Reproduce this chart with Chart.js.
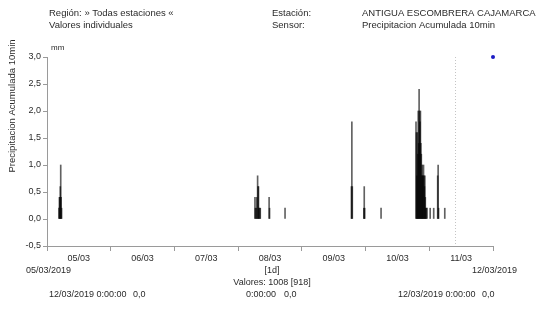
<!DOCTYPE html>
<html>
<head>
<meta charset="utf-8">
<script src="https://cdn.jsdelivr.net/npm/chart.js@4.4.0/dist/chart.umd.min.js"></script>
<style>
  html, body { margin: 0; padding: 0; background: #fff; }
  #wrap { width: 550px; height: 309px; }
</style>
</head>
<body>
<div id="wrap"><canvas id="rainChart" width="550" height="309"></canvas></div>
<script>
// 10-minute accumulated precipitation, ANTIGUA ESCOMBRERA CAJAMARCA (only non-zero readings)
const rainTimes = [
    '05/03 04:30', '05/03 04:40', '05/03 04:50', '05/03 05:00', '05/03 05:10', '05/03 05:20', '05/03 05:30',
    '08/03 06:20', '08/03 06:30', '08/03 06:50', '08/03 07:00', '08/03 07:20', '08/03 07:30', '08/03 07:40',
    '08/03 07:50', '08/03 08:10', '08/03 08:20', '08/03 11:40', '08/03 11:50', '08/03 17:40',
    '09/03 18:40', '09/03 18:50', '09/03 19:00', '09/03 23:20', '09/03 23:30', '09/03 23:40',
    '10/03 05:50',
    '10/03 19:00', '10/03 19:10', '10/03 19:20', '10/03 19:30', '10/03 19:40', '10/03 19:50',
    '10/03 20:00', '10/03 20:10', '10/03 20:20', '10/03 20:30', '10/03 20:40', '10/03 20:50',
    '10/03 21:00', '10/03 21:10', '10/03 21:20', '10/03 21:30', '10/03 21:40', '10/03 21:50',
    '10/03 22:00', '10/03 22:10', '10/03 22:20', '10/03 22:30', '10/03 22:40', '10/03 22:50',
    '10/03 23:10', '11/03 00:20', '11/03 01:40', '11/03 03:10', '11/03 03:20', '11/03 03:30', '11/03 05:50'
];
const rainValues = [
    0.2, 0.4, 0.4, 0.6, 1.0, 0.4, 0.2,
    0.4, 0.2, 0.2, 0.4, 0.8, 0.6, 0.6,
    0.2, 0.2, 0.2, 0.4, 0.2, 0.2,
    0.6, 1.8, 0.6, 0.2, 0.6, 0.2,
    0.2,
    1.8, 1.6, 0.8, 1.6, 1.2, 2.0,
    1.4, 2.4, 2.0, 1.8, 2.0, 1.4,
    1.2, 0.8, 1.0, 0.8, 0.8, 1.0,
    0.8, 0.6, 0.8, 0.4, 0.2, 0.2,
    0.2, 0.2, 0.2, 0.8, 1.0, 0.2, 0.2
];

// last reading marker (blue dot) and the dotted "now" line
const lastTimes = ['12/03 00:00'];
const lastValues = [3.0];
const markerTime = '11/03 09:40';

const dayLabels = ['05/03', '06/03', '07/03', '08/03', '09/03', '10/03', '11/03'];
const yMin = -0.5, yMax = 3.0, yStep = 0.5;
const totalHours = 168;

const headerLeft = ['Región: » Todas estaciones «', 'Valores individuales'];
const headerKeys = ['Estación:', 'Sensor:'];
const headerVals = ['ANTIGUA ESCOMBRERA CAJAMARCA', 'Precipitacion Acumulada 10min'];
const yTitle = 'Precipitacion Acumulada 10min';
const unitLabel = 'mm';
const startLabel = '05/03/2019';
const endLabel = '12/03/2019';
const intervalLabel = '[1d]';
const countLabel = 'Valores: 1008 [918]';
const footLeft = ['12/03/2019 0:00:00', '0,0'];
const footMid = ['0:00:00', '0,0'];
const footRight = ['12/03/2019 0:00:00', '0,0'];

// 'DD/MM HH:MM' -> hours since 05/03 00:00
const toHours = (s) => {
    const [d, t] = s.split(' ');
    const day = parseInt(d.split('/')[0], 10);
    const [h, m] = t.split(':').map(Number);
    return (day - 5) * 24 + h + m / 60;
};

const FONT = '"Liberation Sans", Arial, sans-serif';
const TXT = '#2a2a2a';

const textPlugin = {
    id: 'textPlugin',
    afterDraw: (chart) => {
        const ctx = chart.ctx;
        const x = chart.scales.x;
        const { top, bottom } = chart.chartArea;

        ctx.save();
        ctx.fillStyle = TXT;
        ctx.textBaseline = 'middle';

        ctx.font = '9.5px ' + FONT;
        ctx.textAlign = 'left';
        headerLeft.forEach((t, i) => ctx.fillText(t, 49, 13 + i * 12));
        headerKeys.forEach((t, i) => ctx.fillText(t, 272, 13 + i * 12));
        headerVals.forEach((t, i) => ctx.fillText(t, 362, 13 + i * 12));

        ctx.font = '8px ' + FONT;
        ctx.fillText(unitLabel, 51, 48);

        ctx.font = '9px ' + FONT;
        ctx.fillText(startLabel, 26, 271);
        ctx.textAlign = 'right';
        ctx.fillText(endLabel, 517, 271);
        ctx.textAlign = 'center';
        ctx.fillText(intervalLabel, 272, 271);
        ctx.fillText(countLabel, 272, 283);

        ctx.textAlign = 'left';
        ctx.fillText(footLeft[0], 49, 295);
        ctx.fillText(footLeft[1], 133, 295);
        ctx.fillText(footMid[0], 246, 295);
        ctx.fillText(footMid[1], 284, 295);
        ctx.fillText(footRight[0], 398, 295);
        ctx.fillText(footRight[1], 482, 295);

        // rotated y title
        ctx.save();
        ctx.translate(12, 106);
        ctx.rotate(-Math.PI / 2);
        ctx.textAlign = 'center';
        ctx.font = '9.5px ' + FONT;
        ctx.fillText(yTitle, 0, 0);
        ctx.restore();

        // dotted marker line
        const mx = Math.round(x.getPixelForValue(toHours(markerTime))) + 0.5;
        ctx.strokeStyle = '#c4c4c4';
        ctx.lineWidth = 1;
        ctx.setLineDash([1, 2]);
        ctx.beginPath();
        ctx.moveTo(mx, top);
        ctx.lineTo(mx, bottom);
        ctx.stroke();
        ctx.restore();
    }
};

const ctx = document.getElementById('rainChart').getContext('2d');
new Chart(ctx, {
    type: 'bar',
    data: {
        datasets: [{
            type: 'bar',
            data: rainTimes.map((t, i) => ({ x: toHours(t), y: rainValues[i] })),
            backgroundColor: 'rgba(0,0,0,0.62)',
            borderWidth: 0,
            barThickness: 1,
        }, {
            type: 'line',
            data: lastTimes.map((t, i) => ({ x: toHours(t), y: lastValues[i] })),
            showLine: false,
            pointRadius: 2,
            pointBackgroundColor: '#1c1cc4',
            pointBorderWidth: 0,
            clip: false,
        }]
    },
    options: {
        responsive: false,
        animation: false,
        layout: { padding: { left: 0, top: 57, right: 57, bottom: 43 } },
        plugins: { legend: { display: false }, tooltip: { enabled: false } },
        scales: {
            x: {
                type: 'linear',
                min: 0,
                max: totalHours,
                offset: false,
                afterFit: (scale) => { scale.height = 20; },
                grid: {
                    offset: false,
                    drawOnChartArea: false,
                    tickLength: 5,
                    color: (c) => (c.tick && c.tick.value % 24 === 0 ? '#9a9a9a' : 'rgba(0,0,0,0)'),
                },
                border: { color: '#9a9a9a' },
                ticks: {
                    stepSize: 12,
                    autoSkip: false,
                    maxRotation: 0,
                    padding: 2,
                    color: TXT,
                    font: { family: FONT, size: 9 },
                    callback: (v) => (v % 24 === 12 ? dayLabels[(v - 12) / 24] : ''),
                },
            },
            y: {
                min: yMin,
                max: yMax,
                afterFit: (scale) => { scale.width = 47; },
                grid: { drawOnChartArea: false, tickLength: 4, color: '#9a9a9a' },
                border: { color: '#9a9a9a' },
                ticks: {
                    stepSize: yStep,
                    padding: 2,
                    color: TXT,
                    font: { family: FONT, size: 9 },
                    callback: (v) => v.toFixed(1).replace('.', ','),
                },
            },
        },
    },
    plugins: [textPlugin],
});
</script>
</body>
</html>
